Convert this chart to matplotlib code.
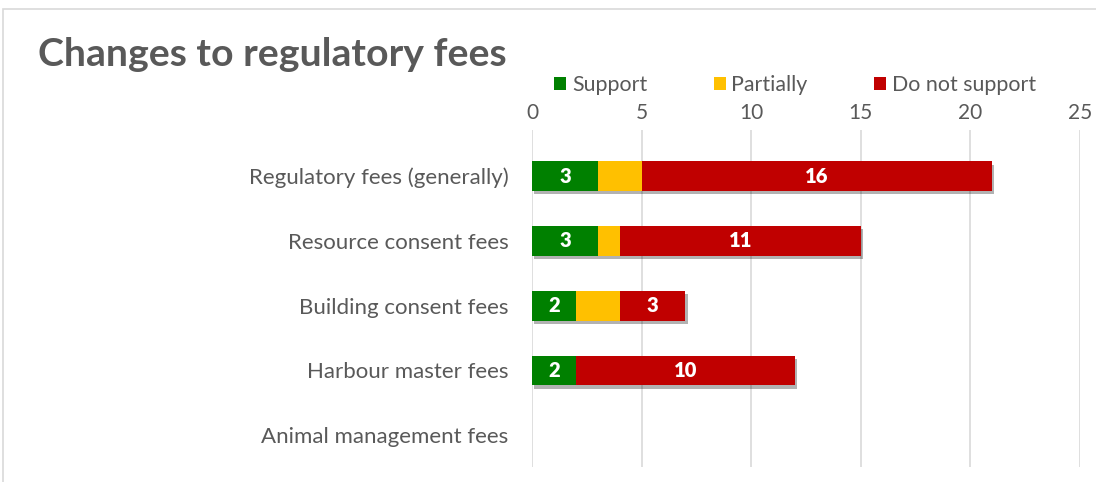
import numpy as np
import matplotlib
matplotlib.use("Agg")
import matplotlib.pyplot as plt
import matplotlib.patheffects as pe
from matplotlib.patches import Rectangle

# data
categories = ["Regulatory fees (generally)", "Resource consent fees",
              "Building consent fees", "Harbour master fees",
              "Animal management fees"]
support = [3, 3, 2, 2, 0]
partially = [2, 1, 2, 0, 0]
do_not_support = [16, 11, 3, 10, 0]
series_names = ["Support", "Partially", "Do not support"]
colours = ["#008000", "#FFC000", "#C00000"]
xticks = [0, 5, 10, 15, 20, 25]

plt.rcParams['font.family'] = ['Lato', 'DejaVu Sans']
grey = "#595959"

fig = plt.figure(figsize=(10.96, 4.82), dpi=100)
# chart frame
fig.patches.append(Rectangle((3 / 1096, -0.1), 1.2, 1 - 9 / 482 + 0.1,
                             transform=fig.transFigure, fill=False,
                             edgecolor="#D9D9D9", linewidth=1.2))

ax = fig.add_axes([532 / 1096, 1 - 467 / 482, 548 / 1096, 337 / 482])
y = np.arange(len(categories))
shadow = [pe.SimplePatchShadow(offset=(1.5, -2.5), shadow_rgbFace="#000000", alpha=0.3), pe.Normal()]

left = np.zeros(len(categories))
bars = []
for vals, c, name in zip([support, partially, do_not_support], colours, series_names):
    b = ax.barh(y, vals, left=left, height=0.46, color=c, label=name,
                zorder=3, path_effects=shadow)
    bars.append(b)
    left = left + np.array(vals)

for b, vals in [(bars[0], support), (bars[2], do_not_support)]:
    for rect, v in zip(b, vals):
        if v > 0:
            ax.text(rect.get_x() + rect.get_width() / 2, rect.get_y() + rect.get_height() / 2,
                    str(v), ha="center", va="center", color="white",
                    fontsize=14.5, fontweight="heavy", zorder=4)

ax.set_xlim(0, 25)
ax.set_ylim(4.49, -0.71)
ax.set_xticks(xticks)
ax.xaxis.tick_top()
ax.set_yticks(y)
ax.set_yticklabels(categories)
ax.tick_params(axis="both", length=0, colors=grey, labelsize=15)
ax.tick_params(axis="x", pad=5)
ax.tick_params(axis="y", labelsize=16, pad=17)
for s in ax.spines.values():
    s.set_visible(False)
ax.grid(axis="x", color="#D9D9D9", linewidth=1.2, zorder=0)
ax.set_axisbelow(True)

fig.text(38 / 1096, 1 - 54 / 482, "Changes to regulatory fees", fontsize=28.3,
         fontweight="bold", color=grey, va="center", ha="left")

leg = fig.legend(loc="center left", bbox_to_anchor=(554 / 1096, 1 - 85 / 482), ncol=3,
                 frameon=False, fontsize=15.4, handlelength=0.56, handleheight=0.56,
                 handletextpad=0.28, columnspacing=3.1, borderaxespad=0, borderpad=0)
for t in leg.get_texts():
    t.set_color(grey)
for h in leg.legend_handles:
    h.set_path_effects([])

fig.savefig("out.png", dpi=100)
